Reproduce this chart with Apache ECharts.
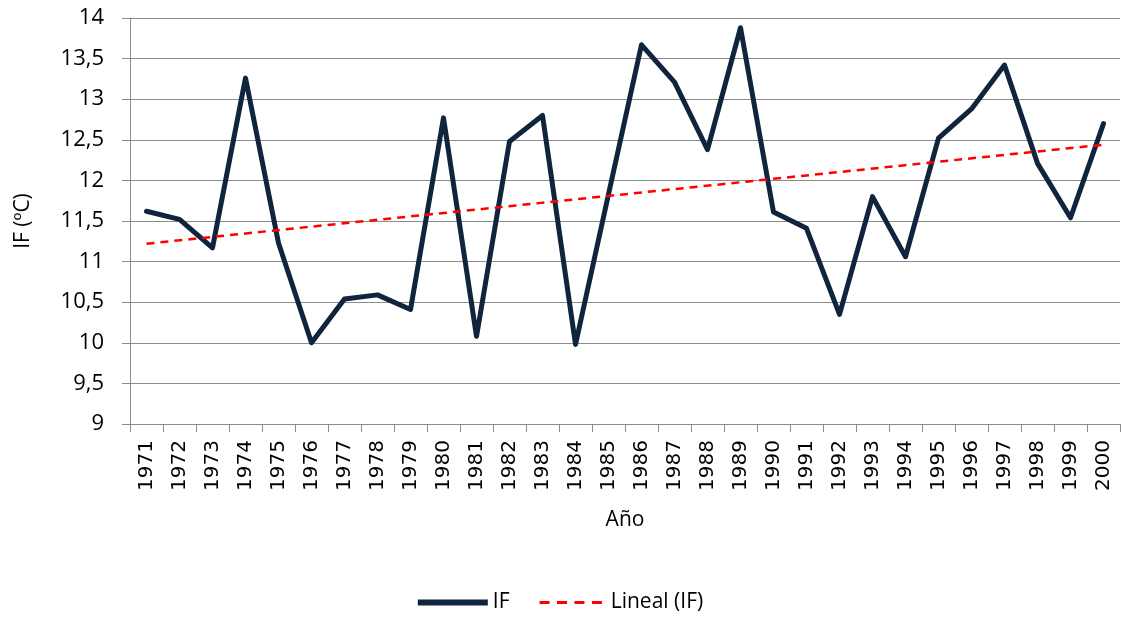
<!DOCTYPE html>
<html>
<head>
<meta charset="utf-8">
<script src="https://cdn.jsdelivr.net/npm/echarts@6/dist/echarts.min.js"></script>
<style>
html,body{margin:0;padding:0;background:#fff;}
#chart{width:1121px;height:624px;}
</style>
</head>
<body>
<div id="chart"></div>
<script>
const years = ['1971','1972','1973','1974','1975','1976','1977','1978','1979','1980',
  '1981','1982','1983','1984','1985','1986','1987','1988','1989','1990',
  '1991','1992','1993','1994','1995','1996','1997','1998','1999','2000'];
const ifValues = [11.62, 11.52, 11.17, 13.26, 11.23, 10.00, 10.54, 10.59, 10.41, 12.77,
  10.08, 12.48, 12.80, 9.98, 11.83, 13.67, 13.21, 12.38, 13.88, 11.61,
  11.41, 10.35, 11.80, 11.06, 12.52, 12.88, 13.42, 12.21, 11.54, 12.70];
// Linear trend line: values at first and last year
const trendStart = 11.22;
const trendEnd = 12.44;
const trendValues = years.map((y, i) => i === 0 ? trendStart : (i === years.length - 1 ? trendEnd : null));
const yTicks = { min: 9, max: 14, interval: 0.5 };

const chart = echarts.init(document.getElementById('chart'), null, { renderer: 'canvas' });
const gray = '#8c8c8c';
const labelFont = '"Open Sans", "Liberation Sans", sans-serif';
const dashIcon = 'path://M0,0 L0,0.01 Z M0,6 L0,6.01 Z ' +
  'M0,1.5 L10,1.5 L10,4.5 L0,4.5 Z M17.5,1.5 L27.5,1.5 L27.5,4.5 L17.5,4.5 Z ' +
  'M35,1.5 L45,1.5 L45,4.5 L35,4.5 Z M52.5,1.5 L62.5,1.5 L62.5,4.5 L52.5,4.5 Z';
chart.setOption({
  animation: false,
  backgroundColor: '#ffffff',
  grid: { left: 130, right: 1, top: 18, bottom: 200, containLabel: false },
  legend: {
    bottom: 6,
    left: 'center',
    itemWidth: 70,
    itemHeight: 6,
    itemGap: 30,
    textStyle: { fontFamily: labelFont, fontSize: 21, color: '#000' },
    data: [
      { name: 'IF', icon: 'path://M0,0 L70,0 L70,6 L0,6 Z', itemStyle: { color: '#10243e' } },
      { name: 'Lineal (IF)', icon: dashIcon, itemStyle: { color: '#ff0000' } }
    ]
  },
  xAxis: {
    type: 'category',
    data: years,
    boundaryGap: true,
    name: 'Año',
    nameLocation: 'middle',
    nameGap: 86,
    nameTextStyle: { fontFamily: labelFont, fontSize: 21, color: '#000' },
    axisLine: { lineStyle: { color: gray, width: 1 } },
    axisTick: { show: true, length: 8, lineStyle: { color: gray } },
    axisLabel: {
      rotate: 90,
      margin: 16,
      interval: 0,
      fontFamily: '"DejaVu Sans", sans-serif',
      fontSize: 20,
      color: '#000'
    },
    splitLine: { show: false }
  },
  yAxis: {
    type: 'value',
    min: yTicks.min,
    max: yTicks.max,
    interval: yTicks.interval,
    name: 'IF (ºC)',
    nameLocation: 'middle',
    nameRotate: 90,
    nameGap: 96,
    nameTextStyle: { fontFamily: labelFont, fontSize: 21, color: '#000' },
    axisLine: { show: true, lineStyle: { color: gray, width: 1 } },
    axisTick: { show: true, length: 8, lineStyle: { color: gray } },
    axisLabel: {
      margin: 26,
      fontFamily: labelFont,
      fontSize: 22,
      color: '#000',
      formatter: v => String(v).replace('.', ',')
    },
    splitLine: { show: true, lineStyle: { color: gray, width: 1 } }
  },
  series: [
    {
      name: 'IF',
      type: 'line',
      data: ifValues,
      symbol: 'none',
      lineStyle: { color: '#10243e', width: 5, join: 'round', cap: 'round' },
      itemStyle: { color: '#10243e' },
      z: 3
    },
    {
      name: 'Lineal (IF)',
      type: 'line',
      data: trendValues,
      connectNulls: true,
      symbol: 'none',
      lineStyle: { color: '#ff0000', width: 2.5, type: [8, 6] },
      itemStyle: { color: '#ff0000' },
      z: 4
    }
  ]
});
</script>
</body>
</html>
